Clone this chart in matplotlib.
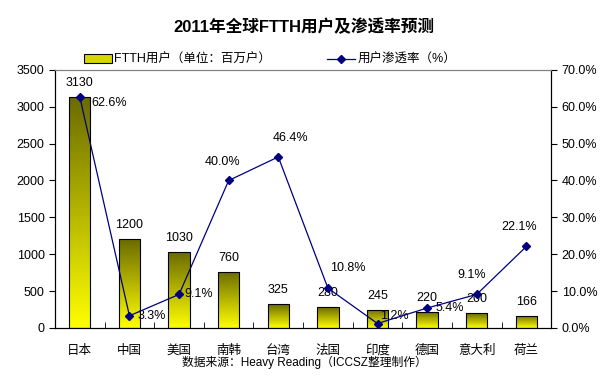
import matplotlib
matplotlib.use('Agg')
import matplotlib.pyplot as plt
import numpy as np
from matplotlib.lines import Line2D
from matplotlib.patches import Rectangle

plt.rcParams['font.family'] = ['Liberation Sans', 'Noto Sans CJK SC', 'DejaVu Sans']

countries = ['日本', '中国', '美国', '南韩', '台湾', '法国', '印度', '德国', '意大利', '荷兰']
users = [3130, 1200, 1030, 760, 325, 280, 245, 220, 200, 166]
rate = [62.6, 3.3, 9.1, 40.0, 46.4, 10.8, 1.2, 5.4, 9.1, 22.1]

# label placement for the percentages (pixel offsets from the point, alignment)
rate_off = [(12, -6, 'left'), (8, 0, 'left'), (5, 0, 'left'), (-6, 18, 'center'),
            (12, 19, 'center'), (2, 20, 'left'), (3, 8, 'left'), (8, 0, 'left'),
            (-5, 19, 'center'), (-7, 19, 'center')]

fig = plt.figure(figsize=(6.08, 3.8), dpi=100)
ax = fig.add_axes([0.0905, 0.137, 0.816, 0.679])
ax2 = ax.twinx()

x = np.arange(len(countries))
w = 0.43

# gradient bars: dark olive at top, yellow at bottom
grad = np.linspace(0, 1, 256).reshape(-1, 1)
cmap = matplotlib.colors.LinearSegmentedColormap.from_list('oy', ['#ffff00', '#6b6b00'])
bars = ax.bar(x, users, width=w, facecolor='none', edgecolor='black', linewidth=0.8, zorder=3)
for b in bars:
    x0, y0 = b.get_x(), b.get_y()
    im = ax.imshow(grad, extent=[x0, x0 + b.get_width(), y0, y0 + b.get_height()],
                   origin='lower', cmap=cmap, aspect='auto', zorder=2)
    im.set_clip_path(b)
ax.set_xlim(-0.5, len(countries) - 0.5)
ax.set_ylim(0, 3500)

for xi, v in zip(x, users):
    ax.annotate(str(v), (xi, v), xytext=(0, 14), textcoords='offset pixels',
                ha='center', va='center', fontsize=9, zorder=5)

ax2.plot(x, rate, color='#000080', linewidth=0.9, marker='D', markersize=4, zorder=4)
ax2.set_ylim(0, 70)
for xi, r, (dx, dy, ha) in zip(x, rate, rate_off):
    ax2.annotate('%.1f%%' % r, (xi, r), xytext=(dx, dy), textcoords='offset pixels',
                 ha=ha, va='center', fontsize=9)

ax.set_yticks(np.arange(0, 3501, 500))
ax.tick_params(axis='y', labelsize=9, length=4, direction='out')
ax2.set_yticks(np.arange(0, 71, 10))
ax2.set_yticklabels(['%.1f%%' % t for t in np.arange(0, 71, 10)])
ax2.tick_params(axis='y', labelsize=9, length=4, direction='out')

ax.set_xticks(x)
ax.set_xticklabels(countries, fontsize=9)
ax.set_xticks(np.arange(-0.5, len(countries), 1), minor=True)
ax.tick_params(axis='x', which='major', length=0, pad=12)
ax.tick_params(axis='x', which='minor', length=4, direction='in')

for a in (ax, ax2):
    a.spines['top'].set_color('#808080')
    a.spines['left'].set_color('black')
    a.spines['right'].set_color('black')
    a.spines['bottom'].set_color('black')

fig.text(0.5, 0.93, '2011年全球FTTH用户及渗透率预测', ha='center', va='center',
         fontsize=12, fontweight='bold')

handles = [Rectangle((0, 0), 1, 1, facecolor='#d6d600', edgecolor='black', linewidth=0.8),
           Line2D([0], [0], color='#000080', marker='D', markersize=4, linewidth=0.9)]
fig.legend(handles[:1], ['FTTH用户（单位：百万户）'], loc='center left',
           bbox_to_anchor=(0.12, 0.842), frameon=False, fontsize=9,
           handlelength=2.2, handleheight=0.7, handletextpad=0.2)
fig.legend(handles[1:], ['用户渗透率（%）'], loc='center left',
           bbox_to_anchor=(0.52, 0.842), frameon=False, fontsize=9,
           handlelength=2.2, handletextpad=0.2)

fig.text(0.5, 0.045, '数据来源：Heavy Reading（ICCSZ整理制作）', ha='center', va='center', fontsize=8.5)

fig.savefig('out.png', dpi=100)
